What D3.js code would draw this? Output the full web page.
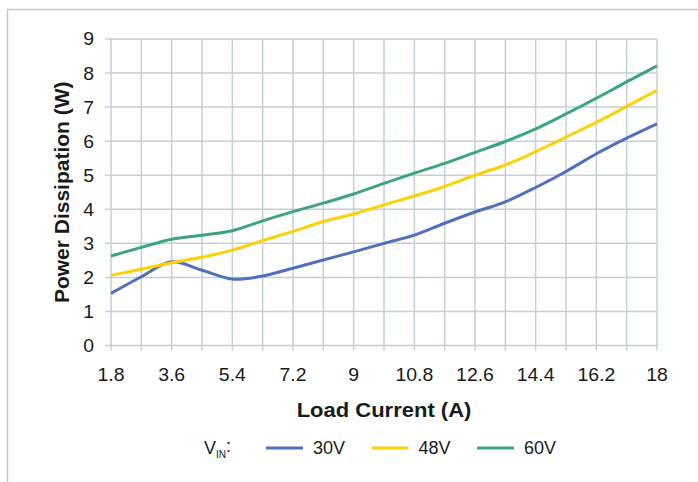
<!DOCTYPE html>
<html>
<head>
<meta charset="utf-8">
<script src="https://cdn.jsdelivr.net/npm/d3@7"></script>
<style>
  body { margin: 0; background: #fff; }
  text { font-family: "Liberation Sans", Arial, sans-serif; fill: #1a1a1a; }
</style>
</head>
<body>
<div id="chart"></div>
<script>
// load current (A), one point every 0.9 A
const current = d3.range(19).map(i => +(1.8 + 0.9 * i).toFixed(1));
const xLabels = [1.8, 3.6, 5.4, 7.2, 9, 10.8, 12.6, 14.4, 16.2, 18];
const yLabels = [0, 1, 2, 3, 4, 5, 6, 7, 8, 9];

const v30 = [1.53, 2.02, 2.46, 2.21, 1.95, 2.04, 2.27, 2.51, 2.75, 3.0, 3.24, 3.59, 3.92, 4.22, 4.64, 5.11, 5.63, 6.09, 6.51];
const v48 = [2.06, 2.24, 2.43, 2.59, 2.80, 3.08, 3.35, 3.64, 3.86, 4.13, 4.39, 4.67, 5.0, 5.30, 5.69, 6.12, 6.55, 7.02, 7.49];
const v60 = [2.63, 2.88, 3.12, 3.24, 3.37, 3.66, 3.93, 4.18, 4.45, 4.76, 5.06, 5.35, 5.67, 5.99, 6.36, 6.80, 7.26, 7.74, 8.21];

const series = [
    {label: "30V", values: v30, color: "#4f70bd"},
    {label: "48V", values: v48, color: "#fdd108"},
    {label: "60V", values: v60, color: "#3ca57b"}
];

const width = 698, height = 482;
const margin = {top: 39, right: 41, bottom: 137, left: 111};
const gridColor = "#c3d0d6";

const svg = d3.select("#chart")
    .append("svg")
    .attr("width", width)
    .attr("height", height);

// outer frame (only left and top edges visible)
svg.append("path")
    .attr("d", "M7.5," + height + " V9.5 H" + width)
    .attr("fill", "none")
    .attr("stroke", "#b9cdd5")
    .attr("stroke-width", 1.5);

const x = d3.scaleLinear()
    .domain([1.8, 18])
    .range([margin.left, width - margin.right]);

const y = d3.scaleLinear()
    .domain([0, 9])
    .range([height - margin.bottom + 0.5, margin.top]);

// grid
svg.append("g")
    .selectAll("line")
    .data(current)
    .enter()
    .append("line")
    .attr("x1", d => x(d))
    .attr("x2", d => x(d))
    .attr("y1", y(9))
    .attr("y2", y(0) + 5)
    .attr("stroke", gridColor)
    .attr("stroke-width", 1.5);

svg.append("g")
    .selectAll("line")
    .data(yLabels)
    .enter()
    .append("line")
    .attr("x1", x(1.8) - 6)
    .attr("x2", x(18))
    .attr("y1", d => y(d))
    .attr("y2", d => y(d))
    .attr("stroke", gridColor)
    .attr("stroke-width", 1.5);

// tick labels
svg.append("g")
    .selectAll("text")
    .data(yLabels)
    .enter()
    .append("text")
    .attr("transform", d => "translate(" + (x(1.8) - 17) + "," + y(d) + ") scale(1.08,1)")
    .attr("dy", "0.36em")
    .attr("text-anchor", "end")
    .style("font-size", "18px")
    .text(d => d);

svg.append("g")
    .selectAll("text")
    .data(xLabels)
    .enter()
    .append("text")
    .attr("transform", d => "translate(" + x(d) + "," + (y(0) + 35) + ") scale(1.08,1)")
    .attr("text-anchor", "middle")
    .style("font-size", "18px")
    .text(d => d);

// axis titles
svg.append("text")
    .attr("transform", "translate(" + (x(1.8) + x(18)) / 2 + ",417) scale(1.1,1)")
    .attr("text-anchor", "middle")
    .style("font-size", "20px")
    .style("font-weight", "bold")
    .text("Load Current (A)");

svg.append("text")
    .attr("transform", "translate(69," + (y(0) + y(9)) / 2 + ") rotate(-90)")
    .attr("text-anchor", "middle")
    .style("font-size", "21px")
    .style("font-weight", "bold")
    .text("Power Dissipation (W)");

// lines
const line = d3.line()
    .x((d, i) => x(current[i]))
    .y(d => y(d))
    .curve(d3.curveCatmullRom.alpha(0.5));

svg.append("g")
    .selectAll("path")
    .data(series)
    .enter()
    .append("path")
    .attr("d", d => line(d.values))
    .attr("fill", "none")
    .attr("stroke", d => d.color)
    .attr("stroke-width", 3);

// legend
const legendY = 448;
const vin = svg.append("text")
    .attr("x", 204)
    .attr("y", legendY)
    .attr("dy", "0.35em")
    .style("font-size", "18px");
vin.append("tspan").text("V");
vin.append("tspan").attr("dy", "0.35em").style("font-size", "10px").text("IN");
vin.append("tspan").attr("dy", "-0.35em").text(":");

const legend = svg.selectAll(".legend")
    .data(series)
    .enter()
    .append("g")
    .attr("class", "legend")
    .attr("transform", (d, i) => "translate(" + (266 + i * 105.5) + "," + legendY + ")");

legend.append("line")
    .attr("x1", 0)
    .attr("x2", 37)
    .attr("stroke", d => d.color)
    .attr("stroke-width", 3);

legend.append("text")
    .attr("x", 47)
    .attr("dy", "0.35em")
    .style("font-size", "18px")
    .text(d => d.label);
</script>
</body>
</html>
